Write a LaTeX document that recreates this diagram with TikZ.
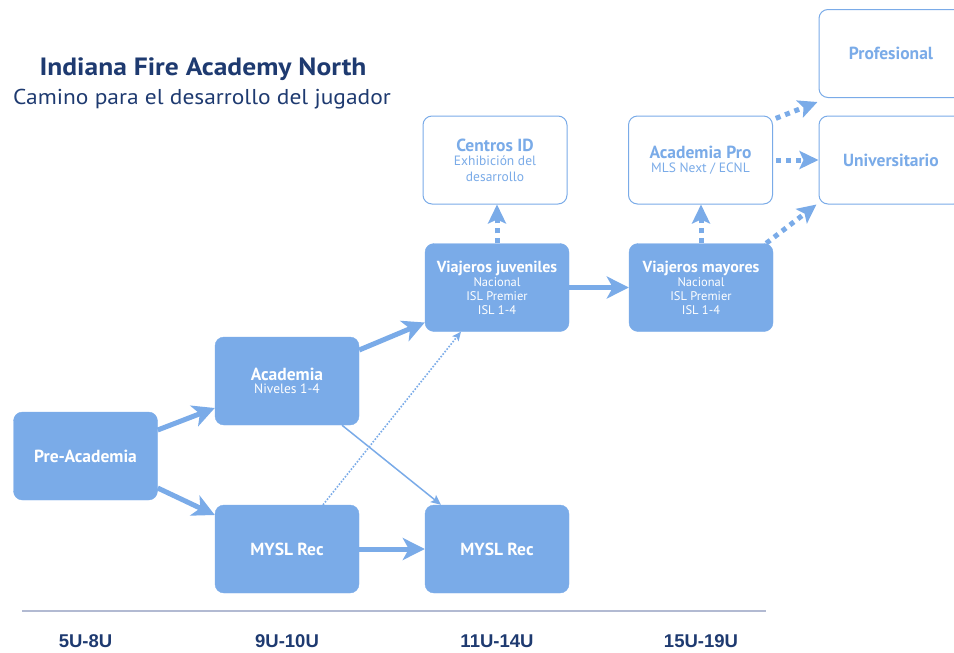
\documentclass[tikz,border=0pt]{standalone}
\usepackage{fontspec}
\setmainfont{PT Sans}
\newfontfamily\titlefont[FakeStretch=1.1]{PT Sans}
\newfontfamily\subtitlefont[FakeStretch=1.09]{PT Sans}
\newfontfamily\agefont{Liberation Sans}
\usetikzlibrary{arrows.meta,calc}
\definecolor{boxblue}{RGB}{122,171,232}
\definecolor{navy}{RGB}{30,58,112}
\definecolor{rulecol}{RGB}{178,186,210}
\newcommand{\hd}[1]{{\fontsize{16}{18}\selectfont\bfseries #1}}
\newcommand{\bighd}[1]{{\fontsize{17.5}{20}\selectfont\bfseries #1}}
\begin{document}
\begin{tikzpicture}[x=1pt,y=-1pt,
  fbox/.style={rectangle, rounded corners=9pt, fill=boxblue, draw=boxblue,
    minimum width=144pt, minimum height=88pt, text=white, align=center,
    inner sep=2pt, font=\fontsize{12.5}{14}\selectfont},
  obox/.style={rectangle, rounded corners=9pt, fill=white, draw=boxblue,
    line width=1pt, minimum width=144pt, minimum height=88pt, text=boxblue,
    align=center, inner sep=2pt, font=\fontsize{13.5}{16}\selectfont},
  thickarr/.style={line width=5pt, draw=boxblue,
    -{Stealth[length=22pt,width=22pt,inset=6pt]}},
  dotarr/.style={line width=5pt, draw=boxblue, dash pattern=on 5pt off 5pt,
    -{Stealth[length=19pt,width=18pt,inset=4pt]}},
  thinarr/.style={line width=1.5pt, draw=boxblue,
    -{Stealth[length=10pt,width=9pt,inset=2pt]}},
  thindot/.style={line width=1.6pt, draw=boxblue, dash pattern=on 1.6pt off 1.6pt,
    -{Stealth[length=9pt,width=8pt,inset=2pt]}},
  agelab/.style={font=\agefont\bfseries\fontsize{18.5}{20}\selectfont, text=navy}
]
\useasboundingbox (0,0) rectangle (954,653);
\clip (0,0) rectangle (954,653);

% title
\node[align=center, text=navy, anchor=base] (title) at (203,75)
  {\titlefont\fontsize{25}{28}\selectfont\bfseries Indiana Fire Academy North};
\node[align=center, text=navy, anchor=base] (subtitle) at (202,104)
  {\subtitlefont\fontsize{21.5}{24}\selectfont Camino para el desarrollo del jugador};

% boxes
\node[fbox] (pre)    at (85.5,456)  {\bighd{Pre-Academia}};
\node[fbox] (acad)   at (287,381)   {\bighd{Academia}\\[-1pt] {\fontsize{13.5}{15}\selectfont Niveles 1-4}};
\node[fbox] (mysla)  at (287,549)   {\bighd{MYSL Rec}};
\node[fbox] (myslb)  at (497,549)   {\bighd{MYSL Rec}};
\node[fbox] (vj)     at (497,287.5) {\hd{Viajeros juveniles}\\ Nacional\\ ISL Premier\\ ISL 1-4};
\node[fbox] (vm)     at (701,287.5) {\hd{Viajeros mayores}\\ Nacional\\ ISL Premier\\ ISL 1-4};
\node[obox] (cid)    at (495,160)   {\bighd{Centros ID}\\[-2pt] Exhibición del\\ desarrollo};
\node[obox] (apro)   at (700.5,160) {\bighd{Academia Pro}\\[-2pt] MLS Next / ECNL};
\node[obox] (univ)   at (891,160)   {\bighd{Universitario}};
\node[obox] (prof)   at (891,53.5)  {\bighd{Profesional}};

% timeline
\coordinate (rl) at (22,611);
\coordinate (rr) at (766,611);
\draw[rulecol, line width=1.2pt] (rl) -- (rr);
\node[agelab, anchor=base] (a1) at (85.5,647) {5U-8U};
\node[agelab, anchor=base] (a2) at (287,647)  {9U-10U};
\node[agelab, anchor=base] (a3) at (497,647)  {11U-14U};
\node[agelab, anchor=base] (a4) at (701,647)  {15U-19U};

% connectors
\draw[thickarr] ([yshift=26pt]pre.east) -- ([yshift=-27pt]acad.west);
\draw[thickarr] ([yshift=-32pt]pre.east) -- ([yshift=34pt]mysla.west);
\draw[thickarr] ([yshift=31pt]acad.east) -- ([yshift=-35pt]vj.west);
\draw[thickarr] (mysla.east) -- (myslb.west);
\draw[thickarr] (vj.east) -- (vm.west);
\draw[thinarr]  ([xshift=55pt]acad.south) -- ([xshift=-56pt]myslb.north);
\draw[thindot]  ([xshift=36pt]mysla.north) -- ([xshift=-36pt]vj.south);
\draw[dotarr]   (vj.north) -- (vj.north |- cid.south);
\draw[dotarr]   (vm.north) -- (vm.north |- apro.south);
\draw[dotarr, shorten <=3pt] (apro.east) -- (univ.west);
\draw[dotarr, shorten <=3pt] ([yshift=-4pt]apro.north east) -- ([xshift=-1pt,yshift=-4pt]prof.south west);
\draw[dotarr] ([xshift=-7pt]vm.north east) -- ([xshift=-2pt]univ.south west);
\end{tikzpicture}
\end{document}
